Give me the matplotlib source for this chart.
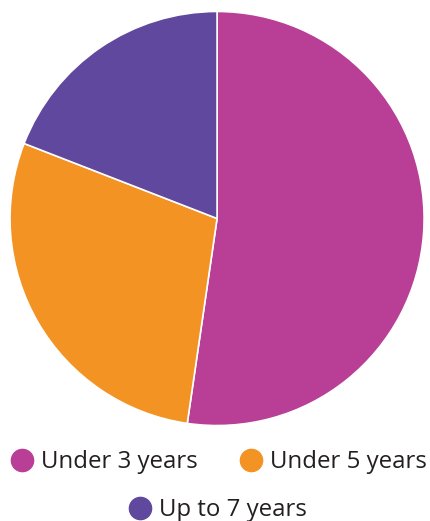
import matplotlib.pyplot as plt
from matplotlib.lines import Line2D

labels = ["Under 3 years", "Under 5 years", "Up to 7 years"]
shares = [52.3, 28.6, 19.1]
colors = ["#B83E96", "#F39323", "#5F489D"]

fig = plt.figure(figsize=(4.30, 5.21), dpi=100)

ax = fig.add_axes([0.0233, 0.1823, 0.963, 0.7966])
ax.pie(shares, colors=colors, startangle=90, counterclock=False,
       wedgeprops=dict(edgecolor="white", linewidth=1.2))
ax.set_xlim(-1, 1)
ax.set_ylim(-1, 1)
ax.set_aspect("equal")

# legend: two on the first row, the third centred below
legend_pos = [(22, 460), (251, 460), (140, 508)]
for (px, py), lab, col in zip(legend_pos, labels, colors):
    x = px / 430
    y = 1 - py / 521
    fig.add_artist(Line2D([x], [y], marker="o", markersize=16, color=col,
                          linestyle="none", transform=fig.transFigure))
    fig.text(x + 19 / 430, y - 2 / 521, lab, fontsize=17.3, family="Open Sans",
             color="#231F20", va="center", ha="left")

fig.savefig("out.png", dpi=100)
